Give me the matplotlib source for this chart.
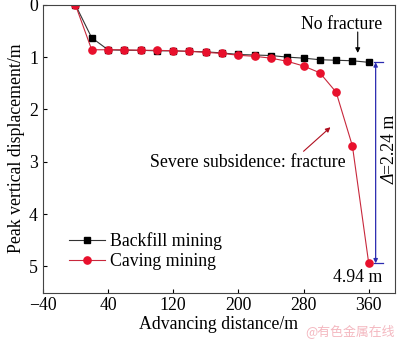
import matplotlib.pyplot as plt

plt.rcParams['font.family'] = ['Liberation Serif', 'DejaVu Serif']

# advancing distance (m)
distance = [0, 20, 40, 60, 80, 100, 120, 140, 160, 180, 200, 220, 240, 260, 280, 300, 320, 340, 360]
# peak vertical displacement (m)
backfill = [0, 0.63, 0.86, 0.87, 0.87, 0.88, 0.88, 0.89, 0.90, 0.92, 0.95, 0.96, 0.97, 1.00, 1.02, 1.05, 1.06, 1.07, 1.10]
caving = [0, 0.86, 0.86, 0.86, 0.87, 0.87, 0.88, 0.89, 0.91, 0.93, 0.965, 0.985, 1.02, 1.08, 1.17, 1.30, 1.67, 2.70, 4.94]

fs = 12.8

fig = plt.figure(figsize=(4.0, 3.41), dpi=100)
ax = fig.add_axes([0.107, 0.142, 0.880, 0.844])

ax.plot(distance, backfill, color='#333333', lw=0.8, marker='s', ms=4.3,
        mfc='black', mec='black', label='Backfill mining')
ax.plot(distance, caving, color='#c8283c', lw=0.8, marker='o', ms=5.2,
        mfc='#e8102c', mec='#e8102c', label='Caving mining')

ax.set_xlim(-40, 392)
ax.set_ylim(5.5, 0)
ax.set_xticks([-40, 40, 120, 200, 280, 360])
ax.set_xticklabels(['\u221240', '40', '120', '200', '280', '360'])
ax.set_yticks([0, 1, 2, 3, 4, 5])
ax.tick_params(direction='in', labelsize=fs, length=3, width=0.8)
for s in ax.spines.values():
    s.set_linewidth(0.8)
    s.set_color('#444444')

ax.set_xlabel('Advancing distance/m', fontsize=fs, labelpad=1)
ax.set_ylabel('Peak vertical displacement/m', fontsize=fs, labelpad=3)

ax.legend(loc='lower left', bbox_to_anchor=(0.04, 0.035), frameon=False, fontsize=fs,
          handlelength=2.0, handletextpad=0.3, labelspacing=0.15, borderaxespad=0.3)

# difference marker
blue = '#2b2bb0'
ax.annotate('', xy=(368.5, 1.10), xytext=(368.5, 4.94),
            arrowprops=dict(arrowstyle='<|-|>', color=blue, lw=0.9, mutation_scale=6,
                            shrinkA=0, shrinkB=0))
ax.plot([366, 377], [1.09, 1.09], color=blue, lw=0.9)
ax.plot([366, 377], [4.94, 4.94], color=blue, lw=0.9)
ax.text(386, 3.23, 'Δ', rotation=90, rotation_mode='anchor', ha='right', va='center',
        fontsize=fs, style='italic')
ax.text(386, 3.23, '=2.24 m', rotation=90, rotation_mode='anchor', ha='left', va='center',
        fontsize=fs)
ax.text(347, 5.22, '4.94 m', ha='center', va='center', fontsize=fs)

ax.text(327, 0.38, 'No fracture', ha='center', va='center', fontsize=fs)
ax.annotate('', xy=(346.5, 0.92), xytext=(346.5, 0.52),
            arrowprops=dict(arrowstyle='-|>', color='black', lw=0.8, mutation_scale=7,
                            shrinkA=0, shrinkB=0))

ax.text(211, 3.02, 'Severe subsidence: fracture', ha='center', va='center', fontsize=fs)
ax.annotate('', xy=(313, 2.34), xytext=(280, 2.80),
            arrowprops=dict(arrowstyle='-|>', color='#b01020', lw=0.8, mutation_scale=7,
                            shrinkA=0, shrinkB=0))

fig.text(0.988, 0.026, '@有色金属在线', ha='right', va='center', fontsize=9.3,
         color='#f4b8c0', family=['Noto Sans CJK SC', 'DejaVu Sans'])

fig.savefig('out.png', dpi=100)
